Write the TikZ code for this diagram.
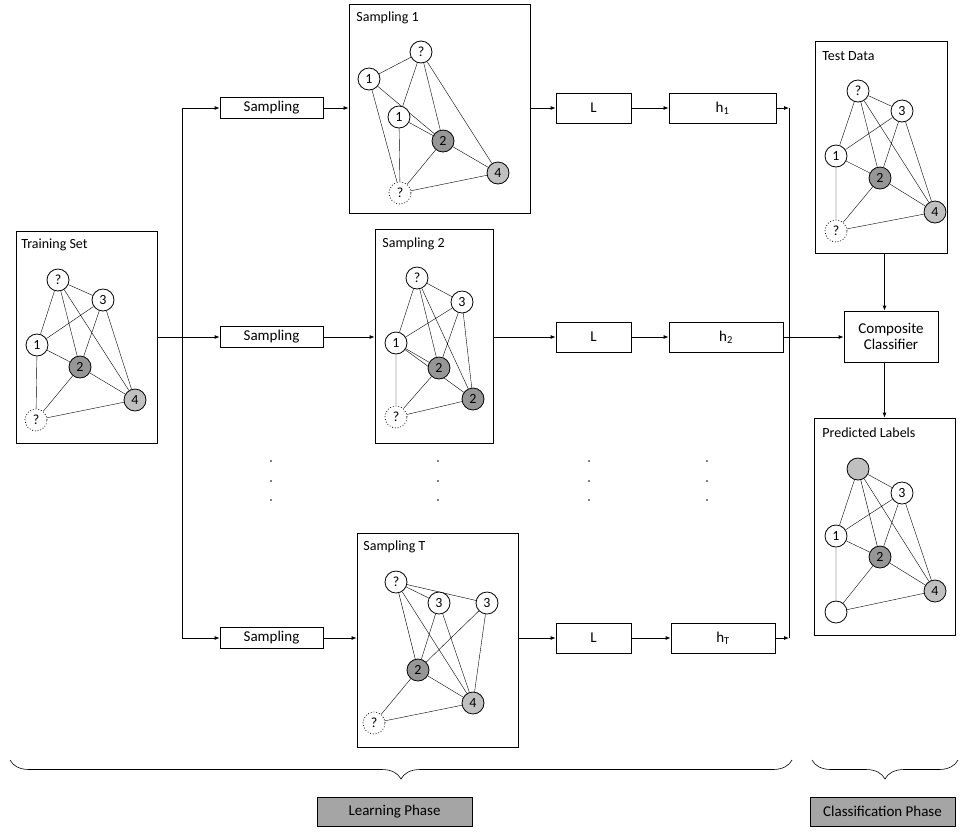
\documentclass[tikz,border=0pt]{standalone}
\usepackage{fontspec}
\setmainfont{Carlito}
\usetikzlibrary{arrows.meta,positioning,decorations.pathreplacing,backgrounds}
\definecolor{darknode}{RGB}{150,150,150}
\definecolor{lightnode}{RGB}{192,192,192}
\definecolor{phasegray}{RGB}{165,165,165}
\begin{document}
\begin{tikzpicture}[x=1pt,y=-1pt,line width=0.8pt,
  every node/.style={font=\fontsize{15}{18}\selectfont,align=center},
  >={Latex[length=5pt,width=4pt]},
  frame/.style={draw,rectangle,inner sep=0pt},
  title/.style={anchor=west,inner sep=0pt,font=\fontsize{14}{16}\selectfont},
  gn/.style={draw,circle,fill=white,inner sep=0pt,minimum size=22pt,font=\fontsize{14}{16}\selectfont},
  unk/.style={gn,dotted},
  dk/.style={gn,fill=darknode},
  lt/.style={gn,fill=lightnode},
  proc/.style={draw,rectangle,inner sep=0pt,minimum height=30pt},
  phase/.style={draw,fill=phasegray,inner sep=0pt,minimum width=155pt,minimum height=29pt}]
\useasboundingbox (0,0) rectangle (961,831);

% frames holding the graphs
\node[frame,minimum width=141pt,minimum height=212pt] (train) at (86.5,337) {};
\node[frame,minimum width=181pt,minimum height=209pt] (s1box) at (439.5,108.5) {};
\node[frame,minimum width=118pt,minimum height=214pt] (s2box) at (434,336) {};
\node[frame,minimum width=161pt,minimum height=214pt] (sTbox) at (437.5,640) {};
\node[frame,minimum width=132pt,minimum height=212pt] (test) at (881,147) {};
\node[frame,minimum width=141pt,minimum height=217pt] (pred) at (884.5,526.5) {};
\node[title] (traintitle) at (21,245) {Training Set};
\node[title] (s1title) at (356,18) {Sampling 1};
\node[title] (s2title) at (382,244) {Sampling 2};
\node[title] (sTtitle) at (363,547) {Sampling T};
\node[title] (testtitle) at (822,56) {Test Data};
\node[title] (predtitle) at (822,433) {Predicted Labels};

% training set
\node[gn] (tq) at (58,280) {?};
\node[gn] (t3) at (103,300) {3};
\node[gn] (t1) at (37,345) {1};
\node[dk] (t2) at (80,367) {2};
\node[lt] (t4) at (135,400) {4};
\node[unk] (tu) at (36,420) {?};

% sampling 1
\node[gn] (aq) at (421,52) {?};
\node[gn] (a1) at (369,79) {1};
\node[gn] (a1b) at (399,117) {1};
\node[dk] (a2) at (443,141) {2};
\node[lt] (a4) at (498,173) {4};
\node[unk] (au) at (400,193) {?};

% sampling 2
\node[gn] (bq) at (417,278) {?};
\node[gn] (b3) at (462,302) {3};
\node[gn] (b1) at (396,343) {1};
\node[dk] (b2) at (439,368) {2};
\node[dk] (b2b) at (473,399) {2};
\node[unk] (bu) at (396,417) {?};

% sampling T
\node[gn] (cq) at (396,582) {?};
\node[gn] (c3) at (439,603) {3};
\node[gn] (c3b) at (487,603) {3};
\node[dk] (c2) at (418,670) {2};
\node[lt] (c4) at (473,703) {4};
\node[unk] (cu) at (374,723) {?};

% test data
\node[gn] (dq) at (858,91) {?};
\node[gn] (d3) at (902,111) {3};
\node[gn] (d1) at (836,156) {1};
\node[dk] (d2) at (880,178) {2};
\node[lt] (d4) at (935,212) {4};
\node[unk] (du) at (836,231) {?};

% predicted labels
\node[lt] (eq) at (858,469) {};
\node[gn] (e3) at (902,493) {3};
\node[gn] (e1) at (836,536) {1};
\node[dk] (e2) at (880,557) {2};
\node[lt] (e4) at (935,591) {4};
\node[gn] (eu) at (836,612) {};

% graph edges, behind the circles
\begin{scope}[on background layer]
\draw (tq)--(t1) (tq)--(t3) (tq)--(t2) (tq)--(t4) (t3)--(t1) (t3)--(t2) (t3)--(t4)
  (t1)--(t2) (t1)--(tu) (t2)--(t4) (t2)--(tu) (tu)--(t4);
\draw (aq)--(a1) (aq)--(a1b) (aq)--(a2) (aq)--(a4) (a1)--(a2) (a1)--(au)
  (a1b)--(a2) (a1b)--(au) (a2)--(au) (a2)--(a4) (au)--(a4);
\draw (bq)--(b1) (bq)--(b3) (bq)--(b2) (bq)--(b2b) (b3)--(b1) (b3)--(b2) (b3)--(b2b)
  (b1)--(b2) (b1)--(b2b) (b1)--(bu) (b2)--(bu) (bu)--(b2b);
\draw (cq)--(c3) (cq)--(c3b) (cq)--(c2) (cq)--(c4) (c3)--(c2) (c3)--(c4)
  (c3b)--(c2) (c3b)--(c4) (c2)--(c4) (c2)--(cu) (cu)--(c4);
\draw (dq)--(d1) (dq)--(d3) (dq)--(d2) (dq)--(d4) (d3)--(d1) (d3)--(d2) (d3)--(d4)
  (d1)--(d2) (d1)--(du) (d2)--(d4) (d2)--(du) (du)--(d4);
\draw (eq)--(e1) (eq)--(e3) (eq)--(e2) (eq)--(e4) (e3)--(e1) (e3)--(e2) (e3)--(e4)
  (e1)--(e2) (e1)--(eu) (e2)--(e4) (e2)--(eu) (eu)--(e4);
\end{scope}

% learning rows
\node[proc,minimum width=103pt,minimum height=21pt] (smp1) at (271.5,108) {Sampling};
\node[proc,minimum width=103pt,minimum height=21pt] (smp2) at (271.5,337) {Sampling};
\node[proc,minimum width=103pt,minimum height=21pt] (smpT) at (271.5,638) {Sampling};
\node[proc,minimum width=75pt] (L1) at (593.5,108) {L};
\node[proc,minimum width=75pt] (L2) at (593.5,337) {L};
\node[proc,minimum width=75pt] (LT) at (593.5,638) {L};
\node[proc,minimum width=107pt] (h1) at (722.5,108) {h\textsubscript{1}};
\node[proc,minimum width=114pt] (h2) at (726,337) {h\textsubscript{2}};
\node[proc,minimum width=104pt] (hT) at (723,638) {h\textsubscript{T}};
\node[proc,minimum width=94pt,minimum height=51pt] (comp) at (891,336.5) {Composite\\[-2pt]Classifier};

\coordinate (split) at (182,337);
\coordinate (bustop) at (789,108);
\coordinate (busbot) at (789,638);
\draw[->] (train.east) -- (smp2);
\draw[->] (split) |- (smp1);
\draw[->] (split) |- (smpT);
\draw[->] (smp1) -- (smp1 -| s1box.west);
\draw[->] (smp2) -- (smp2 -| s2box.west);
\draw[->] (smpT) -- (smpT -| sTbox.west);
\draw[->] (L1 -| s1box.east) -- (L1);
\draw[->] (L2 -| s2box.east) -- (L2);
\draw[->] (LT -| sTbox.east) -- (LT);
\draw[->] (L1) -- (h1); \draw[->] (L2) -- (h2); \draw[->] (LT) -- (hT);
\draw (bustop) -- (busbot);
\draw[->] (h1) -- (bustop);
\draw[->] (hT) -- (busbot);
\draw[->] (h2) -- (h2 -| comp.west);
\draw[->] (test.south -| pred.north) -- (comp.north -| pred.north);
\draw[->] (comp.south -| pred.north) -- (pred.north);

% dots between rows
\foreach \x in {271,438,589,707} \foreach \y in {461,481,500} \fill (\x,\y) circle (0.9pt);

% phases
\draw[decorate,decoration={brace,mirror,amplitude=19pt,aspect=0.5},line width=0.6pt] (10,760) -- (792,760);
\draw[decorate,decoration={brace,mirror,amplitude=19pt},line width=0.6pt] (812,760) -- (958,760);
\node[phase] (learn) at (394.5,811.5) {Learning Phase};
\node[phase,minimum width=145pt] (classify) at (882.5,811.5) {Classification Phase};
\end{tikzpicture}
\end{document}
